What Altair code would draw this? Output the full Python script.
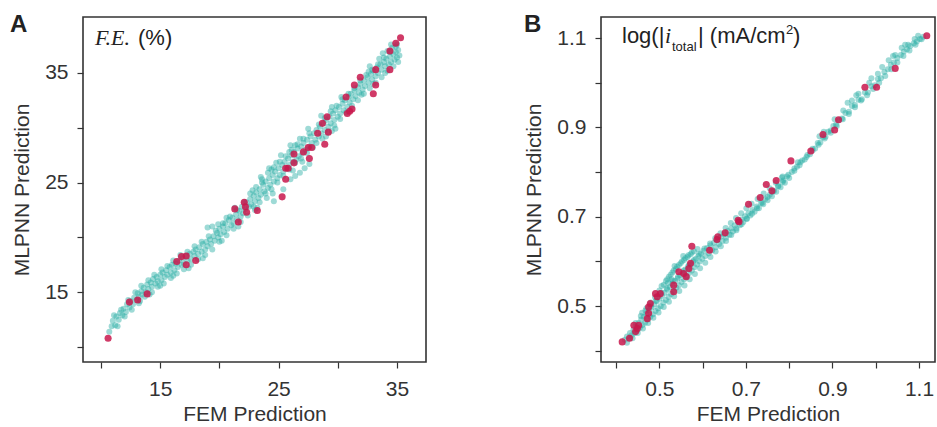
import altair as alt
import pandas as pd

# ---------------- Panel A : F.E. (%) ----------------
a_train = [
    (10.7, 11.4), (10.9, 11.9), (11.0, 12.4), (11.2, 12.0), (11.3, 12.8), (11.5, 12.5), (11.6, 13.1), (11.8, 12.9),
    (11.9, 13.5), (12.1, 13.2), (12.2, 13.9), (12.4, 13.6), (12.5, 14.2), (12.7, 13.9), (12.8, 14.5), (13.0, 14.3),
    (13.1, 14.9), (13.2, 14.6), (13.4, 15.1), (13.5, 14.8), (13.6, 15.4), (13.8, 15.0), (13.9, 15.7), (14.0, 15.3),
    (14.2, 15.9), (14.3, 15.5), (14.4, 16.2), (14.6, 15.8), (14.7, 16.4), (14.8, 16.0), (15.0, 16.6), (15.1, 16.1),
    (15.2, 16.8), (15.4, 16.4), (15.5, 17.0), (15.6, 16.6), (15.8, 17.3), (15.9, 16.8), (16.0, 17.5), (16.2, 17.0),
    (16.3, 17.6), (16.5, 17.3), (16.6, 17.9), (16.8, 17.5), (16.9, 18.1), (17.0, 17.6), (17.2, 18.3), (17.3, 17.9),
    (17.5, 18.5), (17.6, 18.0), (17.8, 18.7), (17.9, 18.3), (18.0, 18.9), (18.2, 18.5), (18.3, 19.1), (18.5, 18.7),
    (18.6, 19.4), (18.8, 18.9), (18.9, 19.6), (19.0, 19.2), (19.2, 19.8), (19.3, 19.4), (19.5, 20.1), (19.6, 19.7),
    (19.8, 20.4), (19.9, 20.0), (20.0, 20.8), (20.1, 20.3), (20.3, 21.0), (20.4, 20.5), (20.5, 21.3), (20.7, 20.8),
    (20.8, 21.6), (21.0, 21.1), (21.1, 21.8), (21.2, 21.3), (21.4, 22.1), (21.5, 21.6), (21.7, 22.4), (21.8, 21.9),
    (21.9, 22.8), (22.0, 22.2), (19.0, 20.9), (19.4, 21.0), (22.2, 22.6), (22.3, 23.2), (22.5, 22.8), (22.6, 23.5),
    (22.7, 23.0), (22.9, 23.8), (23.0, 23.3), (23.1, 24.1), (23.3, 23.6), (23.4, 24.4), (23.5, 23.9), (23.7, 24.8),
    (23.8, 24.2), (23.9, 25.1), (24.1, 24.5), (24.2, 25.4), (24.3, 24.8), (24.5, 25.7), (24.6, 25.1), (24.7, 26.0),
    (24.9, 25.4), (25.0, 26.3), (25.1, 25.7), (24.4, 26.2), (23.6, 25.0), (23.2, 22.7), (24.0, 23.6), (25.3, 26.6),
    (25.4, 26.0), (25.5, 26.9), (25.7, 26.3), (25.8, 27.2), (25.9, 26.6), (26.1, 27.5), (26.2, 26.9), (26.3, 27.8),
    (26.5, 27.1), (26.6, 28.1), (26.7, 27.4), (26.9, 28.3), (27.0, 27.7), (27.1, 28.6), (27.3, 28.0), (27.4, 28.9),
    (27.6, 28.3), (27.7, 29.2), (27.8, 28.6), (28.0, 29.5), (25.9, 27.8), (26.4, 28.4), (26.0, 25.3), (26.4, 25.6),
    (26.8, 25.9), (27.2, 26.3), (27.6, 26.7), (25.4, 24.4), (24.6, 23.3), (28.1, 28.9), (28.2, 29.8), (28.4, 29.2),
    (28.5, 30.1), (28.6, 29.5), (28.8, 30.4), (28.9, 29.8), (29.0, 30.7), (29.2, 30.1), (29.3, 31.0), (29.4, 30.4),
    (29.6, 31.3), (29.7, 30.7), (29.8, 31.6), (30.0, 31.0), (30.1, 31.9), (30.2, 31.3), (30.4, 32.2), (30.5, 31.6),
    (30.6, 32.5), (30.8, 31.9), (30.9, 32.8), (29.0, 29.2), (29.5, 29.7), (31.0, 32.3), (31.1, 33.1), (31.3, 32.6),
    (31.4, 33.4), (31.5, 32.9), (31.7, 33.7), (31.8, 33.2), (31.9, 34.0), (32.1, 33.5), (32.2, 34.3), (32.3, 33.8),
    (32.5, 34.6), (32.6, 34.1), (32.8, 34.9), (32.9, 34.4), (33.0, 35.2), (33.2, 34.7), (33.3, 35.5), (33.4, 35.0),
    (33.6, 35.8), (33.7, 35.3), (33.9, 36.0), (34.0, 35.6), (34.1, 36.3), (34.3, 35.8), (34.4, 36.5), (34.5, 36.0),
    (34.7, 36.7), (34.8, 36.2), (34.9, 36.9), (35.0, 36.4), (35.1, 37.1), (35.2, 36.6), (33.5, 36.3), (34.2, 37.0),
    (32.7, 35.6), (33.8, 36.8), (34.6, 37.3),
]
a_train_edges = [
    (11.1, 12.9), (11.4, 11.9), (11.7, 13.4), (12.0, 12.8), (12.3, 14.3), (12.6, 13.4), (12.9, 15.0), (13.2, 14.0),
    (13.4, 15.6), (13.7, 14.6), (14.0, 16.1), (14.3, 15.0), (14.5, 16.6), (14.8, 15.5), (15.1, 17.1), (15.3, 15.8),
    (15.6, 17.4), (15.9, 16.3), (16.1, 17.9), (13.3, 14.2), (14.1, 14.8), (15.0, 15.6), (16.4, 16.7), (16.7, 18.4),
    (17.0, 17.1), (17.3, 18.7), (17.6, 17.5), (17.9, 19.2), (18.2, 18.0), (18.5, 19.6), (18.8, 18.4), (19.1, 20.1),
    (16.1, 16.5), (17.4, 17.2), (18.6, 18.1), (19.4, 18.9), (19.7, 20.6), (20.0, 19.6), (20.3, 21.3), (20.6, 20.2),
    (20.9, 21.9), (21.2, 20.8), (21.5, 22.5), (21.8, 21.4), (22.1, 23.2), (19.9, 21.2), (20.6, 21.8), (21.3, 22.7),
    (20.2, 19.7), (21.6, 21.0), (22.4, 22.0), (22.6, 24.0), (22.9, 22.8), (23.1, 24.6), (23.4, 23.2), (23.6, 25.3),
    (23.9, 24.0), (24.1, 25.9), (24.4, 24.4), (24.6, 26.4), (24.9, 25.0), (25.1, 26.9), (22.8, 24.3), (23.5, 25.5),
    (24.2, 26.3), (24.8, 26.8), (23.0, 22.5), (24.5, 24.0), (25.4, 25.6), (25.6, 27.4), (25.9, 26.2), (26.1, 28.0),
    (26.4, 26.8), (26.6, 28.5), (26.9, 27.2), (27.1, 29.0), (27.4, 27.7), (27.6, 29.5), (27.9, 28.2), (25.2, 27.5),
    (26.0, 28.4), (26.8, 29.0), (27.5, 29.9), (26.2, 26.1), (27.0, 26.9), (28.2, 28.6), (28.4, 30.3), (28.7, 29.0),
    (28.9, 30.9), (29.2, 29.6), (29.4, 31.5), (29.7, 30.2), (29.9, 32.0), (30.2, 30.8), (30.4, 32.6), (30.7, 31.4),
    (30.9, 33.1), (28.6, 31.1), (29.5, 31.9), (30.3, 32.8), (29.8, 29.9), (31.2, 32.0), (31.4, 33.6), (31.7, 32.5),
    (31.9, 34.3), (32.2, 33.1), (32.4, 34.8), (32.7, 33.6), (32.9, 35.3), (33.2, 34.1), (33.4, 35.8), (33.7, 34.6),
    (33.9, 36.4), (34.2, 35.2), (34.4, 36.9), (34.7, 35.6), (34.9, 37.4), (35.1, 36.0), (32.0, 33.0), (33.0, 34.0),
    (34.0, 35.0), (35.0, 37.6), (32.6, 35.1), (34.5, 37.6),
]
a_test = [
    (10.6, 10.8), (12.4, 14.1), (13.1, 14.3), (13.9, 14.85), (16.4, 17.8), (16.8, 18.25), (17.2, 18.3), (17.2, 17.5),
    (18.0, 17.9), (21.3, 22.6), (21.6, 21.4), (22.1, 23.2), (22.2, 22.8), (22.3, 22.3), (23.2, 22.45), (25.3, 23.7),
    (25.6, 26.3), (25.8, 26.3), (25.6, 25.3), (26.3, 26.8), (26.3, 27.6), (27.1, 27.8), (27.5, 28.2), (27.8, 28.2),
    (27.6, 27.2), (28.9, 28.5), (28.3, 29.5), (28.7, 30.4), (29.1, 31.0), (29.2, 29.6), (30.7, 32.8), (30.8, 31.3),
    (31.2, 31.7), (31.0, 31.5), (31.4, 33.9), (31.9, 34.6), (33.0, 33.1), (33.2, 33.9), (33.2, 35.3), (34.4, 35.3),
    (34.4, 37.0), (34.9, 37.7), (35.3, 38.2),
]

# ---------------- Panel B : log(|i_total|) ----------------
b_train = [
    (0.420, 0.425), (0.425, 0.432), (0.430, 0.428), (0.432, 0.440), (0.436, 0.435), (0.440, 0.447), (0.443, 0.440),
    (0.446, 0.455), (0.449, 0.446), (0.452, 0.462), (0.455, 0.452), (0.458, 0.470), (0.461, 0.458), (0.464, 0.476),
    (0.467, 0.463), (0.470, 0.483), (0.473, 0.470), (0.476, 0.490), (0.479, 0.476), (0.482, 0.497), (0.485, 0.482),
    (0.488, 0.504), (0.491, 0.489), (0.494, 0.511), (0.497, 0.495), (0.500, 0.517), (0.460, 0.485), (0.470, 0.495),
    (0.480, 0.508), (0.490, 0.520), (0.503, 0.500), (0.506, 0.523), (0.509, 0.508), (0.512, 0.530), (0.515, 0.514),
    (0.518, 0.537), (0.521, 0.521), (0.524, 0.543), (0.527, 0.527), (0.530, 0.550), (0.533, 0.534), (0.536, 0.556),
    (0.539, 0.541), (0.542, 0.562), (0.545, 0.547), (0.548, 0.569), (0.551, 0.554), (0.554, 0.575), (0.557, 0.560),
    (0.560, 0.582), (0.563, 0.567), (0.566, 0.588), (0.569, 0.574), (0.572, 0.594), (0.575, 0.580), (0.578, 0.600),
    (0.581, 0.587), (0.584, 0.606), (0.587, 0.593), (0.590, 0.612), (0.593, 0.600), (0.596, 0.618), (0.599, 0.606),
    (0.505, 0.545), (0.515, 0.556), (0.522, 0.566), (0.530, 0.575), (0.538, 0.583), (0.545, 0.592), (0.552, 0.600),
    (0.560, 0.607), (0.567, 0.614), (0.575, 0.620), (0.520, 0.552), (0.535, 0.590), (0.555, 0.612), (0.528, 0.560),
    (0.602, 0.624), (0.606, 0.612), (0.610, 0.630), (0.614, 0.618), (0.618, 0.636), (0.622, 0.625), (0.626, 0.642),
    (0.630, 0.632), (0.634, 0.648), (0.638, 0.639), (0.642, 0.655), (0.646, 0.646), (0.650, 0.661), (0.654, 0.653),
    (0.658, 0.668), (0.662, 0.660), (0.666, 0.674), (0.670, 0.667), (0.674, 0.681), (0.678, 0.674), (0.682, 0.688),
    (0.686, 0.681), (0.690, 0.694), (0.694, 0.688), (0.698, 0.701), (0.702, 0.696), (0.706, 0.708), (0.710, 0.703),
    (0.715, 0.715), (0.720, 0.711), (0.725, 0.723), (0.730, 0.719), (0.735, 0.731), (0.740, 0.728), (0.745, 0.740),
    (0.750, 0.737), (0.755, 0.749), (0.760, 0.746), (0.765, 0.758), (0.770, 0.756), (0.775, 0.768), (0.780, 0.766),
    (0.785, 0.778), (0.790, 0.776), (0.795, 0.790), (0.800, 0.787), (0.806, 0.800), (0.812, 0.803), (0.818, 0.812),
    (0.824, 0.815), (0.830, 0.826), (0.836, 0.828), (0.842, 0.838), (0.848, 0.840), (0.854, 0.852), (0.860, 0.853),
    (0.866, 0.865), (0.872, 0.866), (0.878, 0.878), (0.884, 0.879), (0.890, 0.890), (0.896, 0.893), (0.902, 0.903),
    (0.908, 0.906), (0.915, 0.916), (0.922, 0.920), (0.930, 0.932), (0.938, 0.935), (0.945, 0.948), (0.952, 0.950),
    (0.960, 0.962), (0.968, 0.963), (0.975, 0.978), (0.982, 0.978), (0.990, 0.992), (0.998, 0.994), (0.905, 0.918),
    (0.925, 0.938), (0.945, 0.960), (0.960, 0.975), (0.985, 1.000), (1.005, 1.020), (0.870, 0.880), (0.820, 0.822),
    (0.785, 0.790), (1.005, 1.008), (1.012, 1.010), (1.020, 1.024), (1.028, 1.030), (1.035, 1.040), (1.042, 1.045),
    (1.050, 1.055), (1.058, 1.062), (1.065, 1.070), (1.072, 1.075), (1.080, 1.082), (1.088, 1.088), (1.095, 1.092),
    (1.102, 1.098), (1.110, 1.103), (1.030, 1.050), (1.045, 1.062), (1.060, 1.078), (1.075, 1.085), (1.090, 1.098),
    (1.015, 1.035),
]
b_train_edges = [
    (0.425, 0.418), (0.438, 0.428), (0.450, 0.440), (0.462, 0.450), (0.474, 0.462), (0.486, 0.474), (0.498, 0.486),
    (0.510, 0.498), (0.522, 0.510), (0.534, 0.522), (0.546, 0.534), (0.558, 0.546), (0.570, 0.560), (0.582, 0.572),
    (0.594, 0.585), (0.606, 0.597), (0.618, 0.610), (0.630, 0.622), (0.642, 0.634), (0.654, 0.646), (0.666, 0.659),
    (0.678, 0.670), (0.690, 0.683), (0.702, 0.695), (0.714, 0.707), (0.726, 0.719), (0.738, 0.731), (0.750, 0.744),
    (0.762, 0.756), (0.774, 0.769), (0.786, 0.781), (0.798, 0.794), (0.445, 0.462), (0.457, 0.478), (0.468, 0.490),
    (0.480, 0.500), (0.492, 0.512), (0.505, 0.530), (0.517, 0.540), (0.531, 0.556), (0.543, 0.566), (0.556, 0.580),
    (0.568, 0.592), (0.580, 0.603), (0.592, 0.616), (0.604, 0.629), (0.617, 0.640), (0.629, 0.652), (0.641, 0.663),
    (0.653, 0.675), (0.665, 0.686), (0.677, 0.697), (0.689, 0.708), (0.701, 0.719), (0.713, 0.729), (0.727, 0.740),
    (0.741, 0.752), (0.755, 0.764), (0.769, 0.776), (0.783, 0.788), (0.500, 0.535), (0.510, 0.548), (0.518, 0.560),
    (0.526, 0.570), (0.533, 0.580), (0.541, 0.588), (0.549, 0.596), (0.557, 0.603), (0.565, 0.610), (0.572, 0.616),
    (0.580, 0.623), (0.588, 0.628), (0.812, 0.808), (0.826, 0.822), (0.840, 0.834), (0.854, 0.848), (0.868, 0.861),
    (0.882, 0.875), (0.896, 0.888), (0.910, 0.903), (0.924, 0.918), (0.938, 0.930), (0.952, 0.945), (0.966, 0.960),
    (0.980, 0.972), (0.994, 0.986), (1.008, 1.000), (1.022, 1.015), (1.036, 1.030), (1.050, 1.045), (1.064, 1.060),
    (1.078, 1.072), (1.092, 1.085), (1.106, 1.097), (0.955, 0.972), (0.990, 1.010), (1.040, 1.060), (1.068, 1.085),
    (1.098, 1.105), (0.935, 0.955), (0.880, 0.890),
]
b_test = [
    (0.414, 0.420), (0.431, 0.428), (0.441, 0.457), (0.449, 0.450), (0.445, 0.443), (0.452, 0.457), (0.472, 0.472),
    (0.475, 0.484), (0.475, 0.498), (0.479, 0.506), (0.491, 0.528), (0.502, 0.528), (0.495, 0.521), (0.533, 0.547),
    (0.533, 0.532), (0.545, 0.577), (0.556, 0.573), (0.562, 0.566), (0.572, 0.596), (0.568, 0.584), (0.575, 0.634),
    (0.616, 0.625), (0.635, 0.655), (0.633, 0.649), (0.652, 0.664), (0.684, 0.689), (0.682, 0.692), (0.706, 0.728),
    (0.733, 0.743), (0.747, 0.772), (0.760, 0.758), (0.770, 0.781), (0.804, 0.825), (0.850, 0.847), (0.878, 0.884),
    (0.905, 0.894), (0.914, 0.917), (0.975, 0.990), (1.002, 0.990), (1.045, 1.032), (1.118, 1.105),
]

a_ticks = [10, 15, 20, 25, 30, 35]
b_ticks = [0.4, 0.5, 0.6, 0.7, 0.8, 0.9, 1.0, 1.1]

TEAL = "#27ada4"
RED = "#c8184c"
INK = "#333333"
FONT = "Liberation Sans"
FS = 21


def df(points):
    return pd.DataFrame(points, columns=["fem", "mlp"])


def axis(values, label_expr, orient):
    return alt.Axis(
        values=values, labelExpr=label_expr, grid=False, domain=False,
        tickSize=6, tickWidth=1.2, tickColor=INK, labelColor=INK, titleColor=INK,
        labelFont=FONT, titleFont=FONT, labelFontSize=FS, titleFontSize=FS,
        titleFontWeight="normal", labelPadding=10 if orient == "x" else 9,
        titlePadding=4 if orient == "x" else 12, labelOverlap=False,
    )


def text_layer(txt, x, y, size=FS, font=FONT, style="normal", weight="normal", align="left"):
    return alt.Chart(pd.DataFrame({"t": [txt]})).mark_text(
        font=font, fontSize=size, fontStyle=style, fontWeight=weight, color="#222222",
        align=align, baseline="alphabetic"
    ).encode(x=alt.value(x), y=alt.value(y), text="t:N")


def panel(train, test, xdom, ydom, ticks, lexpr, width, height, texts):
    xe = alt.X("fem:Q", title="FEM Prediction", scale=alt.Scale(domain=xdom, nice=False, zero=False),
               axis=axis(ticks, lexpr, "x"))
    ye = alt.Y("mlp:Q", title="MLPNN Prediction", scale=alt.Scale(domain=ydom, nice=False, zero=False),
               axis=axis(ticks, lexpr, "y"))
    tr = alt.Chart(df(train)).mark_circle(size=36, color=TEAL, opacity=0.45).encode(x=xe, y=ye)
    te = alt.Chart(df(test)).mark_circle(size=50, color=RED, opacity=0.85).encode(x=xe, y=ye)
    return alt.layer(tr, te, *texts).properties(width=width, height=height)


a_expr = "datum.value % 10 == 5 ? datum.label : ''"
b_expr = "round(datum.value * 10) % 2 == 1 ? format(datum.value, '.1f') : ''"

panel_a = panel(
    a_train + a_train_edges, a_test, [8.48, 37.45], [8.64, 40.1], a_ticks, a_expr, 343, 345,
    [
        text_layer("A", -73, 15, size=24, weight="bold"),
        text_layer("F.E.", 12, 28, size=22, font="Liberation Serif", style="italic"),
        text_layer("(%)", 55, 28, size=22),
    ],
)

panel_b = panel(
    b_train + b_train_edges, b_test, [0.365, 1.137], [0.375, 1.147], b_ticks, b_expr, 334, 345,
    [
        text_layer("B", -77, 15, size=24, weight="bold"),
        text_layer("log(|", 21, 26, size=22),
        text_layer("i", 64, 26, size=22, font="Liberation Serif", style="italic"),
        text_layer("total", 71, 34, size=13),
        text_layer("| (mA/cm", 97, 26, size=22),
        text_layer("2", 185, 17, size=13),
        text_layer(")", 192, 26, size=22),
    ],
)

chart = alt.hconcat(panel_a, panel_b, spacing=96).properties(
    padding={"left": 9, "top": 12, "right": 0, "bottom": 0}
).configure_view(stroke=INK, strokeWidth=1.6)

chart.save("out.html", embed_options={"renderer": "svg", "actions": False})
